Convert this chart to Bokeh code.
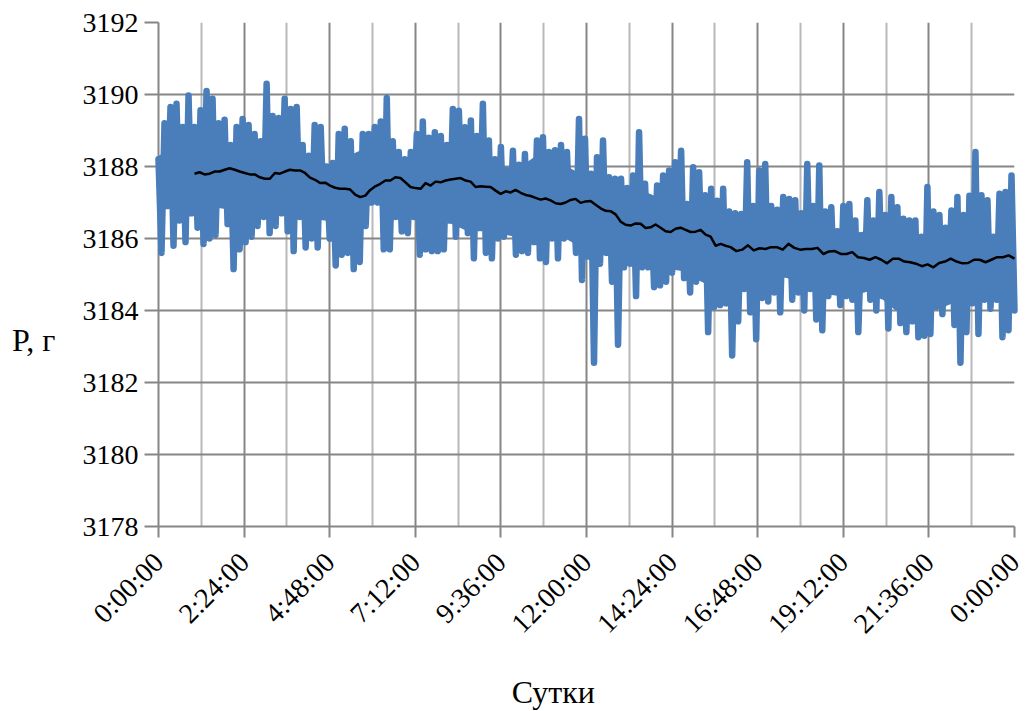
import numpy as np
from bokeh.core.properties import value
from bokeh.embed import file_html
from bokeh.models import FixedTicker, Range1d
from bokeh.plotting import figure
from bokeh.resources import INLINE

FONT = "Liberation Serif"
BLUE = "#4a7ebb"
MAJOR = "#868686"
MINOR = "#b8b8b8"

y_ticks = [3178, 3180, 3182, 3184, 3186, 3188, 3190, 3192]
x_labels = ["0:00:00", "2:24:00", "4:48:00", "7:12:00", "9:36:00", "12:00:00",
            "14:24:00", "16:48:00", "19:12:00", "21:36:00", "0:00:00"]
x_major_hours = [0, 2.4, 4.8, 7.2, 9.6, 12, 14.4, 16.8, 19.2, 21.6, 24]
x_minor_hours = [1.2, 3.6, 6, 8.4, 10.8, 13.2, 15.6, 18, 20.4, 22.8]

# Local maxima of the raw signal (grams above 3000), left to right
peaks = [
    188.2, 189.2, 189.65, 189.74, 189.1, 189.97, 189.1, 189.56, 190.1, 189.88, 189.2, 189.3,
    188.6, 189.1, 189.32, 189.15, 188.9, 188.7, 190.3, 189.4, 189.35, 189.88, 189.6, 189.65,
    188.6, 188.3, 189.15, 189.1, 188.0, 188.1, 188.9, 189.05, 188.7, 188.0, 188.9, 188.9,
    189.1, 189.25, 189.9, 188.7, 188.4, 188.2, 188.4, 188.9, 189.25, 188.8, 188.95,
    188.85, 188.6, 189.6, 189.55, 189.09, 189.28, 188.85, 189.74, 188.72, 188.2, 188.54, 187.9,
    188.44, 188.05, 188.35, 187.9, 188.72, 188.81, 188.4, 188.45, 188.6, 188.4, 187.7, 189.32,
    188.77, 187.8, 188.26, 188.72, 187.7, 187.66, 187.66, 187.4, 187.75, 188.95, 187.52, 187.05,
    187.47, 187.75, 187.89, 188.12, 188.44, 186.96, 187.98, 187.84, 187.2, 187.38, 187.05, 187.38, 186.75,
    186.7, 186.68, 188.12, 186.9, 187.89, 188.07, 186.9, 186.8, 187.15, 187.1, 187.06, 186.7,
    188.07, 186.9, 188.03, 186.75, 186.87, 186.2, 186.9, 186.96, 186.5, 186.0, 187.06, 186.5,
    187.29, 186.65, 187.15, 186.87, 186.55, 186.5, 186.5, 186.05, 187.43, 186.75, 186.65, 186.3,
    186.78, 187.15, 186.65, 187.19, 188.4, 187.2, 187.06, 186.05, 187.24, 187.29, 187.75,
]

# Local minima of the raw signal, left to right
troughs = [
    185.6, 186.9, 185.8, 186.5, 185.9, 186.7, 186.3, 185.85, 186.0, 186.1, 187.25, 186.4,
    185.15, 185.7, 185.9, 186.05, 186.35, 186.6, 186.15, 186.35, 186.7, 186.2, 185.65, 186.6,
    185.75, 186.0, 185.75, 186.6, 186.0, 185.25, 185.55, 185.6, 185.15, 185.35, 186.35, 187.0,
    187.0, 185.7, 185.7, 186.6, 186.2, 186.15, 186.6, 185.55, 185.7, 185.65, 185.65,
    185.7, 186.5, 186.05, 186.9, 186.15, 185.45, 186.6, 185.6, 185.45, 186.0, 186.05, 186.4,
    185.55, 185.65, 185.6, 185.9, 185.45, 185.35, 186.0, 185.45, 186.0, 186.1, 185.6, 184.85,
    185.5, 182.55, 185.3, 185.6, 184.8, 183.05, 185.2, 185.3, 184.4, 185.2, 185.2, 184.65,
    184.7, 184.8, 185.05, 185.6, 184.9, 184.5, 184.8, 184.9, 183.4, 184.1, 184.15, 184.2, 182.75,
    183.7, 184.6, 183.95, 183.2, 184.35, 184.25, 184.5, 183.95, 185.0, 184.3, 184.5, 184.0,
    184.6, 183.75, 183.45, 184.4, 184.6, 184.15, 184.4, 184.3, 183.4, 184.6, 184.3, 184.0,
    184.4, 183.5, 184.3, 183.65, 183.4, 183.7, 183.26, 183.3, 183.35, 184.1, 183.9, 184.4,
    183.6, 182.55, 183.4, 184.2, 183.35, 184.3, 184.05, 184.3, 183.26, 183.45, 184.0,
]

# Edges of the dense, solid part of the signal
band_hi = [188.3, 188.6, 188.7, 188.6, 188.6, 188.6, 188.2, 187.9, 188.3, 188.6, 187.9, 188.4,
           188.4, 188.35, 188.03, 187.9, 188.35, 188.07, 187.7, 187.33, 187.42, 187.15, 186.96, 186.87,
           186.64, 186.68, 186.78, 186.6, 186.31, 186.13, 186.22, 186.4, 186.04, 186.04, 186.22, 186.13, 186.05]
band_lo = [186.9, 187.0, 186.9, 186.8, 186.7, 186.8, 186.6, 186.5, 186.3, 187.0, 186.8, 186.6,
           186.5, 186.2, 186.2, 186.04, 186.04, 186.04, 185.67, 185.57, 185.48, 185.2, 185.1, 184.74,
           184.93, 184.46, 185.02, 184.74, 184.46, 184.37, 184.56, 184.0, 184.19, 184.09, 184.37, 184.28, 184.3]

# Moving average, three stretches read separately
avg_a = [187.80, 187.84, 187.78, 187.80, 187.86, 187.86, 187.91, 187.95, 187.91, 187.86, 187.82, 187.78,
         187.78, 187.70, 187.66, 187.66, 187.82, 187.80, 187.86, 187.91, 187.89, 187.89, 187.82, 187.69,
         187.63, 187.54, 187.55, 187.47, 187.41, 187.38, 187.38, 187.36, 187.22, 187.15, 187.19, 187.35,
         187.45, 187.52, 187.61, 187.61, 187.70, 187.68, 187.56, 187.43, 187.40, 187.38, 187.54, 187.47, 187.58]
avg_b = [187.56, 187.61, 187.64, 187.66, 187.68, 187.61, 187.58, 187.43, 187.45, 187.44, 187.43, 187.33,
         187.24, 187.31, 187.28, 187.35, 187.27, 187.21, 187.18, 187.13, 187.08, 187.11, 187.06, 186.98,
         186.96, 187.00, 187.07, 187.10, 186.99, 187.03, 187.04, 186.94, 186.84, 186.77, 186.76, 186.67,
         186.47, 186.38, 186.36, 186.42, 186.41, 186.29, 186.31, 186.39, 186.30, 186.20, 186.18, 186.27,
         186.30, 186.24, 186.18, 186.19, 186.24, 186.11, 186.05, 185.80, 185.85, 185.80]
avg_c = [185.76, 185.65, 185.69, 185.81, 185.67, 185.73, 185.71, 185.76, 185.76, 185.69, 185.85, 185.74,
         185.69, 185.71, 185.71, 185.74, 185.57, 185.64, 185.65, 185.57, 185.57, 185.62, 185.48, 185.46,
         185.41, 185.48, 185.41, 185.31, 185.44, 185.44, 185.36, 185.34, 185.30, 185.23, 185.28, 185.20,
         185.32, 185.36, 185.44, 185.36, 185.31, 185.32, 185.41, 185.41, 185.34, 185.41, 185.48, 185.48, 185.53, 185.44]
avg_edges_hours = [1.01, 7.91, 16.04, 24.0]

axis_titles = ["Сутки", "P, г"]
title_hours = [11.07, -3.5]
title_values = [3173.39, 3183.17]

# Interleave the extremes along the time axis: peak, trough, peak, ...
n = min(len(peaks), len(troughs))
t_raw = np.linspace(0, 24, 2 * n)
y_raw = np.empty(2 * n)
y_raw[0::2] = np.array(peaks[:n]) + 3000
y_raw[1::2] = np.array(troughs[:n]) + 3000

t_band = np.linspace(0, 24, len(band_hi))
y_band_hi = np.array(band_hi) + 3000
y_band_lo = np.array(band_lo) + 3000

t_avg = np.concatenate([
    np.linspace(avg_edges_hours[0], avg_edges_hours[1], len(avg_a), endpoint=False),
    np.linspace(avg_edges_hours[1], avg_edges_hours[2], len(avg_b), endpoint=False),
    np.linspace(avg_edges_hours[2], avg_edges_hours[3], len(avg_c)),
])
y_avg = np.array(avg_a + avg_b + avg_c) + 3000

p = figure(
    width=1025, height=711, frame_width=856, frame_height=504,
    min_border_left=158, min_border_right=11, min_border_top=22, min_border_bottom=185,
    x_range=Range1d(0, 24), y_range=Range1d(3178, 3192),
    output_backend="svg", toolbar_location=None,
)
p.outline_line_color = None

p.xaxis.ticker = FixedTicker(ticks=x_major_hours, minor_ticks=x_minor_hours)
p.yaxis.ticker = FixedTicker(ticks=y_ticks)
p.xaxis.major_label_overrides = dict(zip(x_major_hours, x_labels))
p.xaxis.major_label_orientation = np.pi / 4

for ax in (p.xaxis[0], p.yaxis[0]):
    ax.axis_line_color = MAJOR
    ax.axis_line_width = 2
    ax.major_tick_line_color = MAJOR
    ax.major_tick_line_width = 2
    ax.major_tick_in = 0
    ax.minor_tick_line_color = None
    ax.major_label_text_font = FONT
    ax.major_label_text_font_size = "28px"
    ax.major_label_text_color = "#000000"

p.xaxis.major_tick_out = 11
p.yaxis.major_tick_out = 14
p.xaxis.major_label_standoff = 20
p.yaxis.major_label_standoff = 6

p.xgrid.ticker = FixedTicker(ticks=x_major_hours, minor_ticks=x_minor_hours)
p.ygrid.ticker = FixedTicker(ticks=y_ticks)
p.xgrid.grid_line_color = MAJOR
p.xgrid.grid_line_width = 2
p.xgrid.minor_grid_line_color = MINOR
p.xgrid.minor_grid_line_width = 2
p.ygrid.grid_line_color = MAJOR
p.ygrid.grid_line_width = 2

p.varea(t_band, y_band_lo, y_band_hi, fill_color=BLUE, level="annotation")
p.line(t_raw, y_raw, line_color=BLUE, line_width=6.5,
       line_join="round", line_cap="round", level="annotation")
p.line(t_avg, y_avg, line_color="#000000", line_width=2.5,
       line_join="round", level="annotation")

p.text(title_hours, title_values, text=axis_titles, text_font=value(FONT),
       text_font_size=value("32px"), text_color="#000000",
       text_align="center", text_baseline="middle", level="annotation")

open("out.html", "w").write(file_html(p, INLINE))
